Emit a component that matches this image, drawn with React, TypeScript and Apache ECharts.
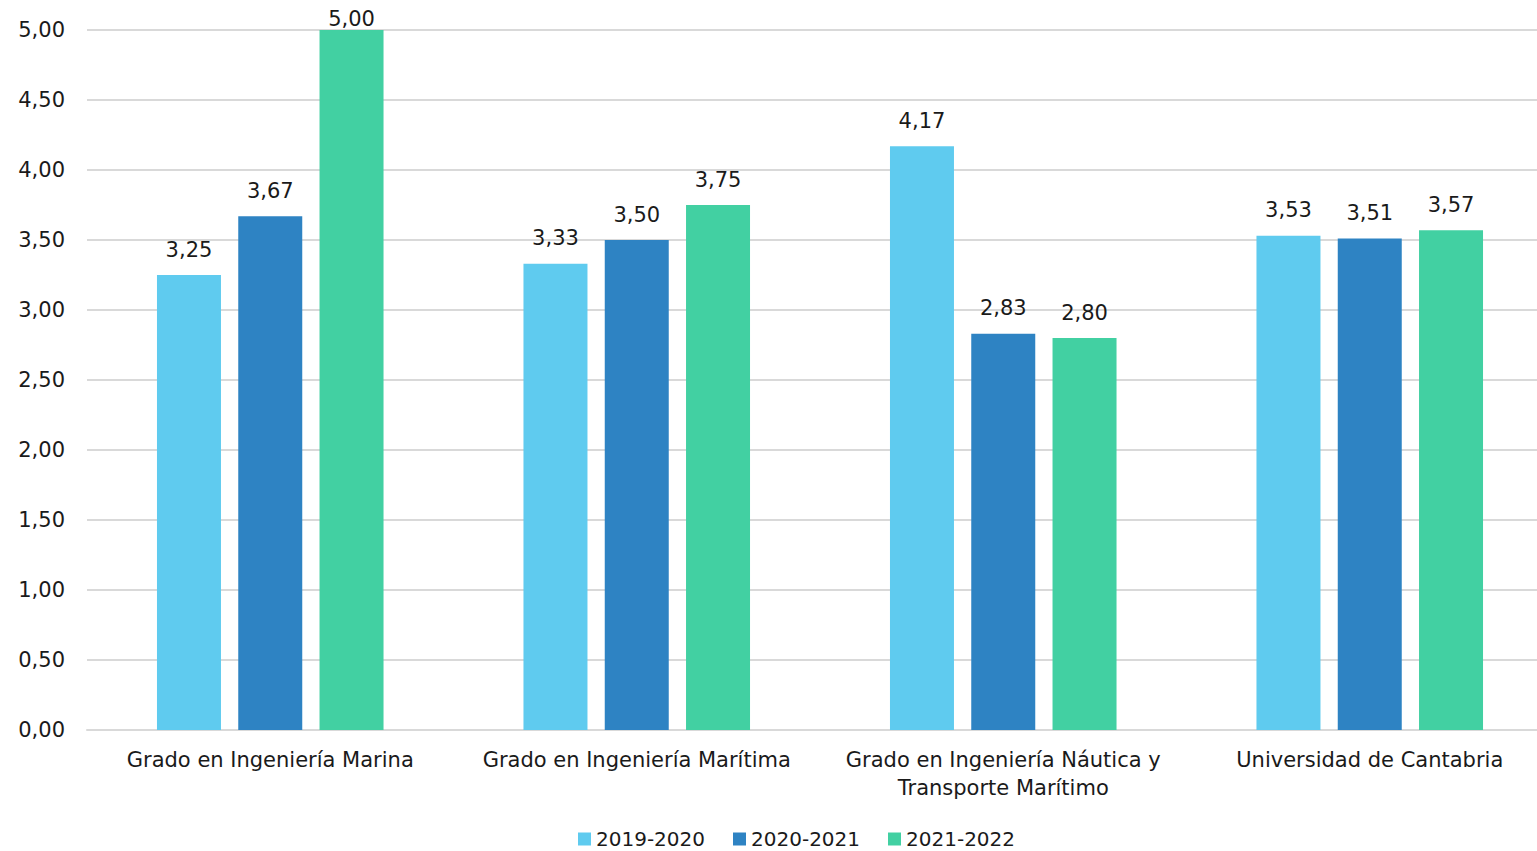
import React, { useEffect, useRef } from "react";
import * as echarts from "echarts";

const categories = [
  "Grado en Ingeniería Marina",
  "Grado en Ingeniería Marítima",
  "Grado en Ingeniería Náutica y\nTransporte Marítimo",
  "Universidad de Cantabria",
];
const seriesNames = ["2019-2020", "2020-2021", "2021-2022"];
const values2019 = [3.25, 3.33, 4.17, 3.53];
const values2020 = [3.67, 3.5, 2.83, 3.51];
const values2021 = [5.0, 3.75, 2.8, 3.57];
const colors = ["#5FCBEF", "#2E83C3", "#42D0A2"];

const FONT = "'DejaVu Sans', sans-serif";
const FS = 21;
const fmt = (v: number) => v.toFixed(2).replace(".", ",");

export default function App() {
  const ref = useRef<HTMLDivElement>(null);
  useEffect(() => {
    if (!ref.current) return;
    const chart = echarts.init(ref.current, undefined, { renderer: "svg" });
    const all = [values2019, values2020, values2021];
    chart.setOption({
      animation: false,
      backgroundColor: "#ffffff",
      textStyle: { fontFamily: FONT },
      grid: { left: 87, right: 0, top: 30, bottom: 121 },
      legend: {
        data: seriesNames,
        left: 578,
        top: 829,
        padding: 0,
        itemWidth: 13,
        itemHeight: 13,
        itemGap: 28,
        icon: "rect",
        textStyle: { fontFamily: FONT, fontSize: 20, color: "#1a1a1a" },
      },
      xAxis: {
        type: "category",
        data: categories,
        axisTick: { show: false },
        axisLine: { lineStyle: { color: "#d9d9d9", width: 2 } },
        axisLabel: {
          fontFamily: FONT,
          fontSize: FS,
          color: "#1a1a1a",
          margin: 16,
          lineHeight: 28,
          interval: 0,
        },
      },
      yAxis: {
        type: "value",
        min: 0,
        max: 5,
        interval: 0.5,
        axisLine: { show: false },
        axisTick: { show: false },
        splitLine: { lineStyle: { color: "#d9d9d9", width: 2 } },
        axisLabel: {
          fontFamily: FONT,
          fontSize: FS,
          color: "#1a1a1a",
          margin: 22,
          formatter: (v: number) => fmt(v),
        },
      },
      series: all.map((vals, i) => ({
        name: seriesNames[i],
        type: "bar",
        barWidth: 64,
        barGap: "27%",
        itemStyle: { color: colors[i] },
        label: {
          show: true,
          position: "top",
          distance: 15,
          fontFamily: FONT,
          fontSize: FS,
          color: "#1a1a1a",
          formatter: (p: any) => fmt(p.value),
        },
        data: vals.map((v) =>
          v >= 5 ? { value: v, label: { distance: 1 } } : v
        ),
      })),
    });
    return () => chart.dispose();
  }, []);
  return (
    <div
      style={{
        position: "fixed",
        left: 0,
        top: 0,
        width: 1537,
        height: 851,
        overflow: "hidden",
        background: "#ffffff",
      }}
    >
      <div ref={ref} style={{ width: 1553, height: 851 }} />
    </div>
  );
}
